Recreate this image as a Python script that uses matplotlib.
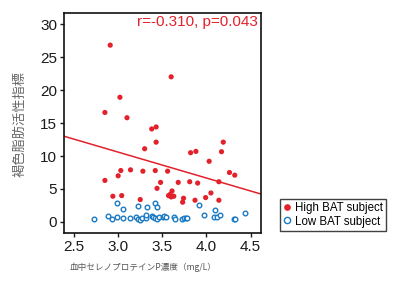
import matplotlib
matplotlib.use("Agg")
import matplotlib.pyplot as plt
from matplotlib.lines import Line2D

# High BAT subjects (red, filled)
high_x = [2.91, 3.60, 3.02, 2.85, 3.10, 3.38, 3.43, 3.43, 3.30, 3.82, 3.88, 4.19, 4.17,
          4.03, 3.03, 3.14, 3.28, 3.42, 3.56, 3.00, 4.26, 4.32, 2.85, 3.48, 3.68, 3.81,
          3.90, 4.14, 3.44, 4.05, 3.61, 3.57, 3.60, 3.63, 3.59, 2.94, 3.04, 3.99, 3.74,
          3.73, 3.25, 3.87, 4.14]
high_y = [26.8, 22.0, 18.9, 16.6, 15.8, 14.1, 14.4, 12.1, 11.1, 10.5, 10.7, 12.1, 10.65,
          9.2, 7.8, 7.9, 7.7, 7.8, 7.7, 7.0, 7.5, 7.1, 6.3, 6.0, 6.0, 6.1,
          5.9, 6.1, 5.1, 4.4, 4.7, 4.0, 3.8, 3.9, 4.2, 3.9, 4.0, 3.7, 3.6,
          3.0, 3.4, 3.3, 3.3]

# Low BAT subjects (blue, open)
low_x = [2.99, 3.42, 3.44, 3.22, 3.33, 3.06, 3.92, 4.10, 3.97, 4.44, 2.73, 2.89, 2.93,
         2.99, 3.05, 3.13, 3.20, 3.22, 3.25, 3.27, 3.31, 3.32, 3.38, 3.39, 3.42, 3.44,
         3.46, 3.51, 3.52, 3.54, 3.63, 3.64, 3.72, 3.74, 3.77, 3.78, 4.08, 4.12, 4.15,
         4.31, 4.32]
low_y = [2.9, 2.9, 2.3, 2.4, 2.2, 1.9, 2.5, 1.8, 1.1, 1.3, 0.45, 0.95, 0.5,
         0.76, 0.55, 0.6, 0.7, 0.45, 0.35, 0.66, 0.55, 1.0, 0.9, 0.76, 0.66, 0.4,
         0.7, 0.8, 0.9, 0.8, 0.7, 0.45, 0.5, 0.6, 0.66, 0.66, 0.7, 0.7, 1.05,
         0.45, 0.5]

# Regression line
fit_x = [2.387, 4.617]
fit_slope = -3.93
fit_intercept = 22.38

x_ticks = [2.5, 3.0, 3.5, 4.0, 4.5]
y_ticks = [0, 5, 10, 15, 20, 25, 30]

RED = "#e3212b"
BLUE = "#1a7ac4"

plt.rcParams['font.family'] = ['Liberation Sans', 'Noto Sans CJK JP', 'DejaVu Sans']

fig = plt.figure(figsize=(4, 3), dpi=100)
ax = fig.add_axes([0.16, 0.2233, 0.4925, 0.7333])

ax.plot(fit_x, [fit_intercept + fit_slope * v for v in fit_x], color=RED, lw=1.1, zorder=2)
ax.scatter(high_x, high_y, s=14, color=RED, edgecolors='none', zorder=3)
ax.scatter(low_x, low_y, s=11, facecolors='white', edgecolors=BLUE, linewidths=1.0, zorder=3)

ax.set_xlim(2.387, 4.617)
ax.set_ylim(-1.67, 31.67)
ax.set_xticks(x_ticks)
ax.set_xticklabels([f"{v:.1f}" for v in x_ticks])
ax.set_yticks(y_ticks)
ax.tick_params(direction='out', length=3, width=1, labelsize=11, colors='#1a1a1a', pad=2)
for s in ax.spines.values():
    s.set_linewidth(1.2)
    s.set_color('#111111')

ax.text(0.985, 0.99, "r=-0.310, p=0.043", transform=ax.transAxes, ha='right', va='top',
        color=RED, fontsize=11)

fig.text(0.05, 0.588, "褐色脂肪活性指標", family=['Noto Sans CJK JP'], color='#666666',
         fontsize=9.5, rotation=90, ha='center', va='center')
fig.text(0.175, 0.11, "血中セレノプロテインP濃度（mg/L）", family=['Noto Sans CJK JP'],
         color='#555555', fontsize=6.2, ha='left', va='center')

handles = [Line2D([], [], marker='o', ls='none', color=RED, markersize=4.8, markeredgewidth=0),
           Line2D([], [], marker='o', ls='none', markerfacecolor='white', markeredgecolor=BLUE,
                  markersize=4.5, markeredgewidth=1.0)]
leg = fig.legend(handles, ["High BAT subject", "Low BAT subject"], loc='upper left',
                 bbox_to_anchor=(0.70, 0.337), frameon=True, fancybox=False, fontsize=8.3,
                 handlelength=0.6, handletextpad=0.4, borderpad=0.3, labelspacing=0.1,
                 borderaxespad=0)
leg.get_frame().set_edgecolor('#111111')
leg.get_frame().set_linewidth(1.0)

fig.savefig("out.png", dpi=100)
